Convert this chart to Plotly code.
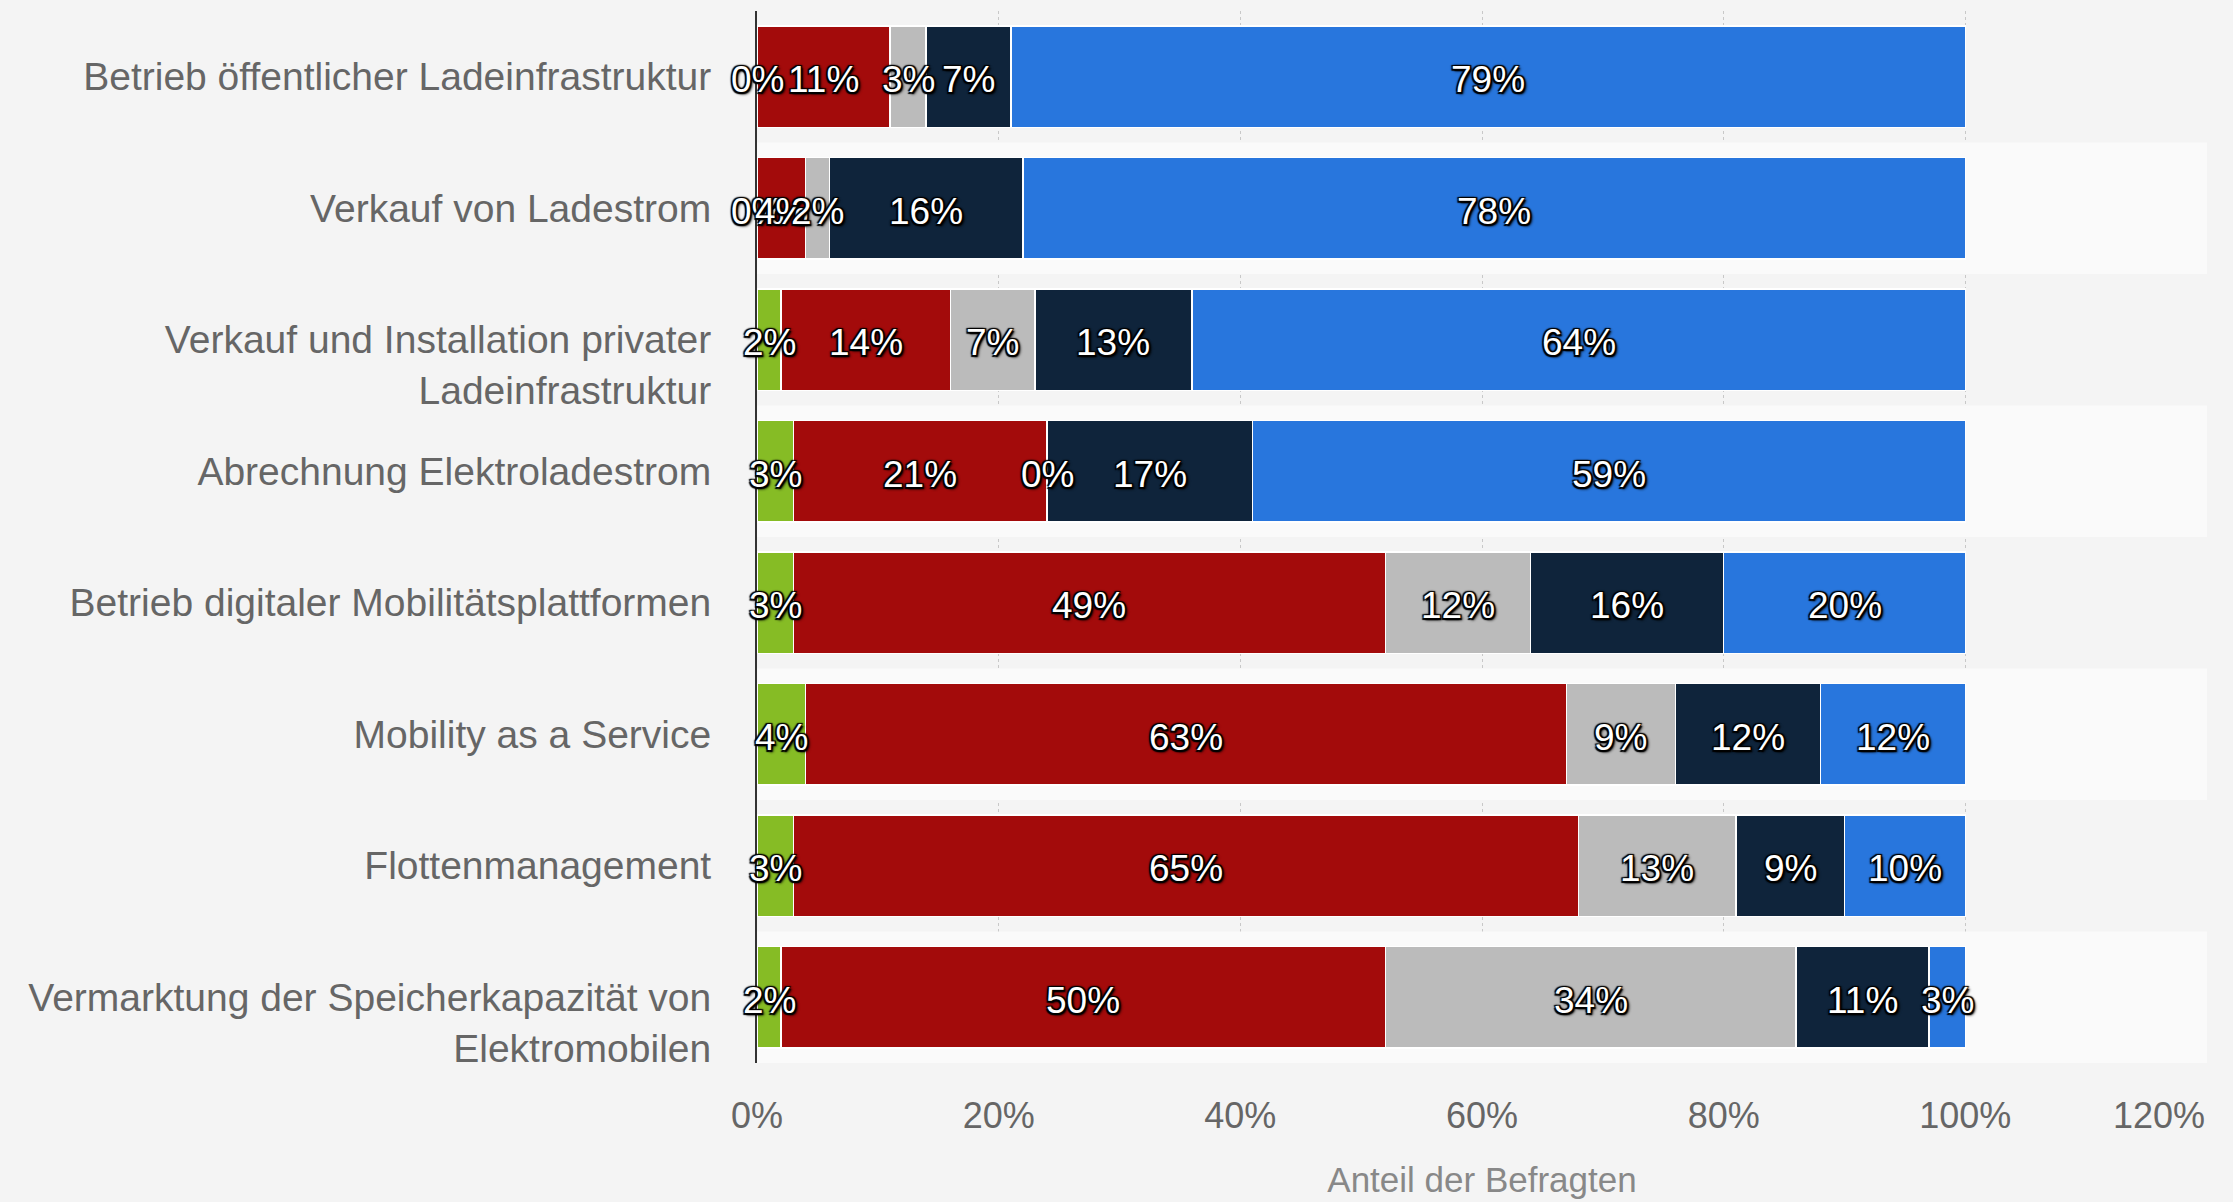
import plotly.graph_objects as go

categories = [
    "Betrieb öffentlicher Ladeinfrastruktur",
    "Verkauf von Ladestrom",
    " <br>Verkauf und Installation privater<br>Ladeinfrastruktur",
    "Abrechnung Elektroladestrom",
    "Betrieb digitaler Mobilitätsplattformen",
    "Mobility as a Service",
    "Flottenmanagement",
    " <br>Vermarktung der Speicherkapazität von<br>Elektromobilen",
]
series_names = ["Serie 1", "Serie 2", "Serie 3", "Serie 4", "Serie 5"]
green = [0, 0, 2, 3, 3, 4, 3, 2]
red = [11, 4, 14, 21, 49, 63, 65, 50]
gray = [3, 2, 7, 0, 12, 9, 13, 34]
navy = [7, 16, 13, 17, 16, 12, 9, 11]
blue = [79, 78, 64, 59, 20, 12, 10, 3]
series_values = [green, red, gray, navy, blue]
colors = ["#86bc25", "#a30b0b", "#bbbbbb", "#0f243b", "#2876dd"]
tick_vals = [0, 20, 40, 60, 80, 100, 120]
tick_text = ["0%", "20%", "40%", "60%", "80%", "100%", "120%"]

FONT = "Liberation Sans, Arial, sans-serif"
fig = go.Figure()

# alternating row bands
for i in range(len(categories)):
    if i % 2 == 1:
        fig.add_shape(type="rect", xref="x", yref="y", x0=0, x1=120,
                      y0=i - 0.5, y1=i + 0.5, fillcolor="#fafafa",
                      line=dict(width=0), layer="between")

for name, vals, col in zip(series_names, series_values, colors):
    fig.add_trace(go.Bar(
        y=categories, x=vals, name=name, orientation="h",
        marker=dict(color=col, line=dict(color="#ffffff", width=1.5)),
        hoverinfo="x+name", showlegend=False,
    ))

# labels at segment centres
shadow = ("-1.5px -1.5px 1px #000, 1.5px -1.5px 1px #000, -1.5px 1.5px 1px #000, "
          "1.5px 1.5px 1px #000, 0 0 3px #000, 2px 2px 3px #000")
for r in range(len(categories)):
    cum = 0
    for vals in series_values:
        v = vals[r]
        fig.add_annotation(
            x=cum + v / 2, y=categories[r], xref="x", yref="y",
            text=f"{v}%", showarrow=False, yshift=-3,
            xanchor="center", yanchor="middle",
            font=dict(family=FONT, size=37, color="#ffffff", shadow=shadow),
        )
        cum += v

# last tick label kept inside the page (right-aligned to its gridline)
tick_font = dict(size=36, color="#666666", family=FONT)
fig.add_annotation(
    x=tick_vals[-1], y=0, xref="x", yref="paper", text=tick_text[-1],
    showarrow=False, xanchor="right", yanchor="middle", yshift=-52,
    font=tick_font,
)

fig.update_layout(
    width=2233, height=1202,
    barmode="stack", bargap=0.23,
    paper_bgcolor="#f4f4f4", plot_bgcolor="#f4f4f4",
    margin=dict(l=757, r=26, t=11, b=139, autoexpand=False),
    font=dict(family=FONT, color="#666666"),
    xaxis=dict(
        range=[0, 120], tickvals=tick_vals, ticktext=tick_text[:-1] + [""],
        showgrid=True, gridcolor="#c8c8c8", griddash="dot", gridwidth=1,
        zeroline=False, showline=False, ticks="", automargin=False,
        tickfont=tick_font,
        ticklabelstandoff=28, ticklabeloverflow="allow",
        title=dict(text="Anteil der Befragten", font=dict(size=35, color="#888888", family=FONT), standoff=32),
    ),
    yaxis=dict(
        range=[7.5, -0.5], type="category", automargin=False,
        showgrid=False, zeroline=False,
        showline=True, linecolor="#333333", linewidth=2,
        ticks="", tickfont=dict(size=39, color="#666666", family=FONT),
        ticklabelstandoff=36,
    ),
)

fig.write_html("out.html", config={"displayModeBar": False},
               post_script="document.body.style.margin='0';document.body.style.overflow='hidden';")
